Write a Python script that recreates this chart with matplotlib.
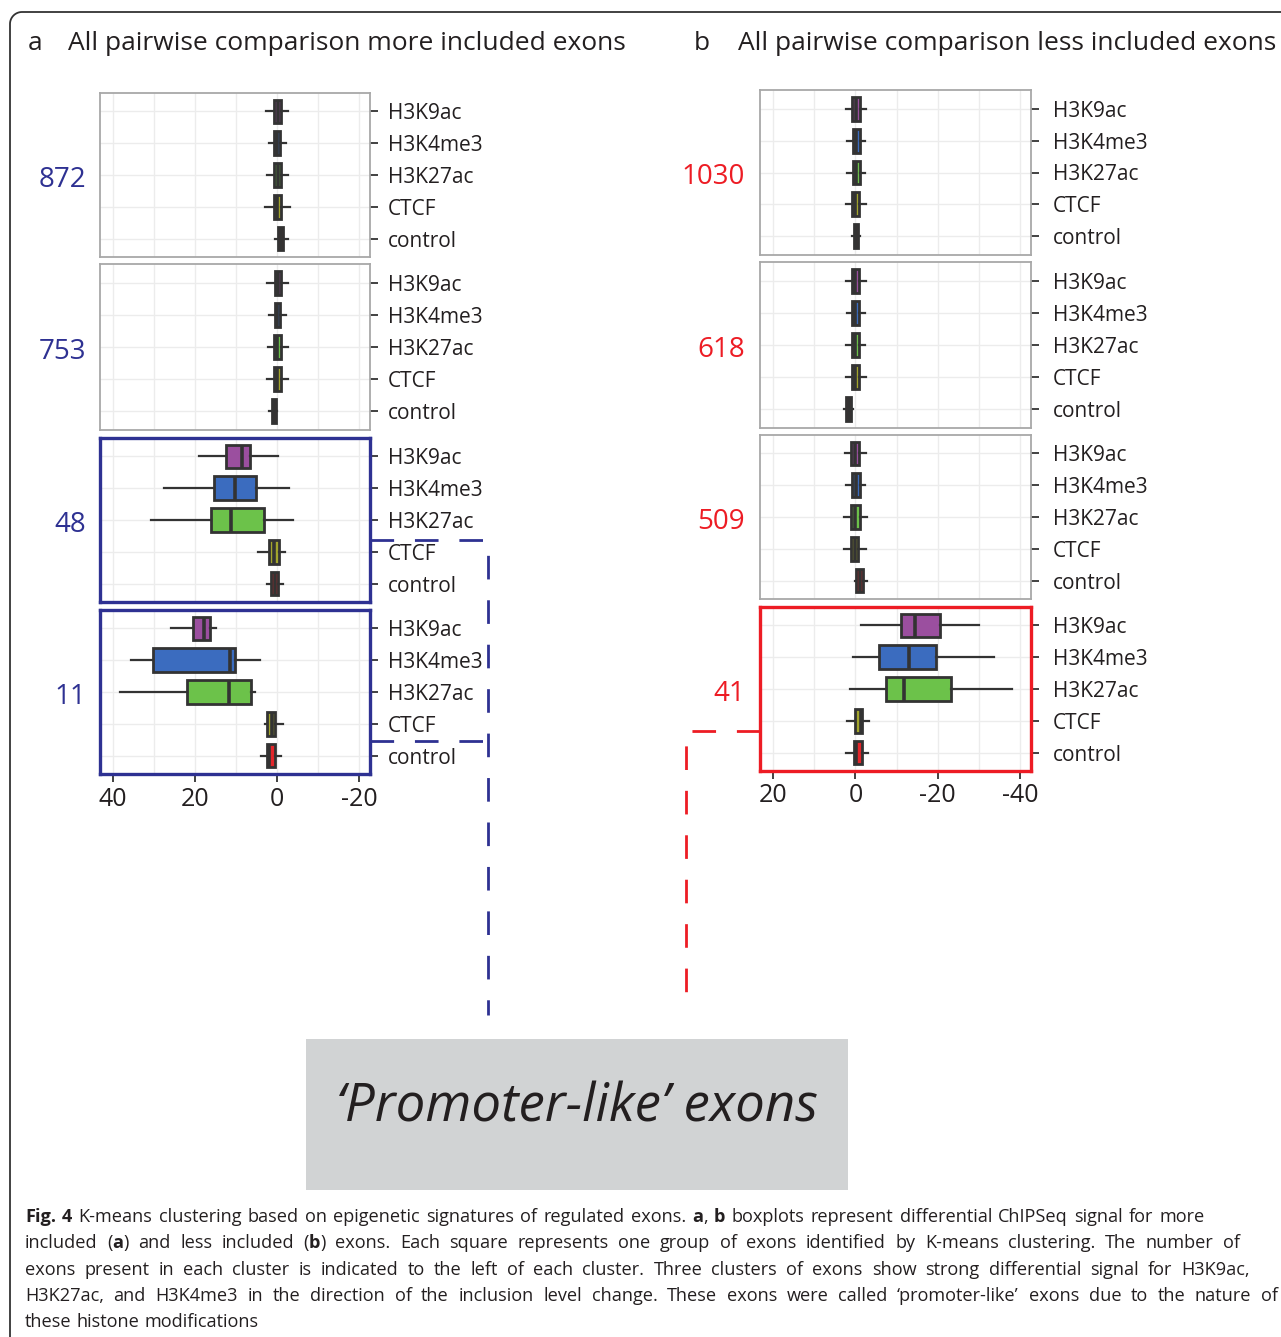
import matplotlib
matplotlib.use("Agg")
import matplotlib.pyplot as plt
from matplotlib.lines import Line2D
from matplotlib.patches import Rectangle
import numpy as np

W, H = 1281, 1337
plt.rcParams['font.family'] = ['Open Sans', 'DejaVu Sans']
plt.rcParams['lines.scale_dashes'] = False

# ---------------------------------------------------------------- data
marks = ["H3K9ac", "H3K4me3", "H3K27ac", "CTCF", "control"]
mark_colors = ["#9b4f9f", "#3b6cbf", "#6cc24a", "#a3a52c", "#e3262b"]

# more included exons (panel a): cluster sizes and box statistics per mark
a_sizes = [872, 753, 48, 11]
a_whislo = [[-2.7, -2.2, -2.7, -3.0, -2.6],
            [-2.6, -2.2, -2.5, -2.7, 0.0],
            [-0.2, -2.8, -3.8, -2.0, -1.4],
            [14.9, 4.3, 5.5, -1.4, -1.0]]
a_q1 = [[-0.9, -0.7, -0.8, -1.0, -1.3],
        [-0.8, -0.7, -0.8, -0.9, 0.4],
        [6.6, 5.3, 3.2, -0.4, -0.3],
        [16.3, 10.2, 6.5, 0.5, 0.5]]
a_med = [[-0.1, 0.0, -0.1, 0.0, -0.8],
         [-0.1, 0.0, 0.0, 0.0, 0.9],
         [8.5, 10.2, 11.3, 0.8, 0.5],
         [17.9, 11.5, 11.8, 1.2, 1.9]]
a_q3 = [[0.7, 0.7, 0.7, 0.9, -0.3],
        [0.6, 0.6, 0.7, 0.8, 1.4],
        [12.4, 15.5, 16.1, 2.1, 1.5],
        [20.6, 30.3, 22.0, 2.5, 2.4]]
a_whishi = [[2.7, 2.1, 2.4, 2.9, 0.5],
            [2.5, 2.1, 2.3, 2.6, 1.9],
            [19.1, 27.5, 30.7, 4.6, 2.4],
            [25.9, 35.6, 38.3, 2.9, 3.9]]

# less included exons (panel b)
b_sizes = [1030, 618, 509, 41]
b_whislo = [[-2.6, -2.4, -2.4, -2.6, -1.2],
            [-2.5, -2.3, -2.4, -2.5, 0.5],
            [-2.6, -2.4, -2.8, -2.5, -2.9],
            [-30.0, -33.6, -38.1, -3.4, -3.0]]
b_q1 = [[-1.0, -1.0, -1.0, -0.9, -0.6],
        [-0.9, -0.9, -0.9, -0.9, 1.0],
        [-0.8, -1.0, -1.0, -0.7, -1.8],
        [-20.6, -19.6, -23.3, -1.6, -1.6]]
b_med = [[-0.1, -0.1, -0.2, 0.0, -0.1],
         [0.0, 0.0, 0.0, 0.0, 1.5],
         [0.1, -0.1, 0.0, 0.1, -1.0],
         [-14.5, -13.0, -11.9, -1.3, -0.2]]
b_q3 = [[0.8, 0.7, 0.5, 0.9, 0.3],
        [0.8, 0.8, 0.8, 0.8, 2.2],
        [1.0, 0.8, 1.0, 1.0, -0.2],
        [-11.1, -5.8, -7.5, 0.2, 0.4]]
b_whishi = [[2.3, 2.0, 2.0, 2.3, 0.9],
            [2.3, 2.1, 2.2, 2.4, 2.7],
            [2.5, 2.3, 2.7, 2.7, 0.1],
            [-1.4, 0.6, 1.2, 2.0, 2.3]]

a_ticks = [40, 20, 0, -20]
b_ticks = [20, 0, -20, -40]
a_xlim = (43.2, -22.6)
b_xlim = (23.2, -42.7)

BLUE = "#2e3192"
RED = "#ed1c24"
GREY_FRAME = "#a8a8a8"
INK = "#231f20"
DARK = "#333333"

fig = plt.figure(figsize=(W / 100, H / 100), dpi=100)


def fx(x):
    return x / W


def fy(y):
    return 1 - y / H


def add_panel(x0, y0, x1, y1):
    return fig.add_axes([fx(x0), fy(y1), (x1 - x0) / W, (y1 - y0) / H])


def draw_cluster(ax, lo, q1, med, q3, hi, xlim, ticks, frame_color, frame_lw,
                 bottom, label_pad):
    stats = []
    for i in range(len(marks)):
        stats.append(dict(whislo=lo[i], q1=q1[i], med=med[i], q3=q3[i],
                          whishi=hi[i], fliers=[], label=marks[i]))
    ax.set_axisbelow(True)
    bp = ax.bxp(stats, positions=range(len(marks)), widths=0.75,
                orientation='horizontal', patch_artist=True,
                showcaps=False, showfliers=False,
                boxprops=dict(edgecolor=DARK, linewidth=2.0),
                medianprops=dict(color=DARK, linewidth=2.6),
                whiskerprops=dict(color=DARK, linewidth=1.6))
    for patch, c in zip(bp['boxes'], mark_colors):
        patch.set_facecolor(c)
    ax.set_xticks(ticks)
    ax.set_xticks(np.arange(min(ticks) - 10, max(ticks) + 11, 10), minor=True)
    ax.set_xlim(*xlim)
    ax.set_ylim(len(marks) - 0.42, -0.58)
    ax.grid(True, which='both', axis='x', color='#ececec', linewidth=1.0)
    ax.grid(True, which='major', axis='y', color='#ececec', linewidth=1.0)
    ax.yaxis.tick_right()
    ax.set_yticks(range(len(marks)))
    ax.set_yticklabels(marks, fontsize=15, color=INK)
    ax.tick_params(axis='y', length=6, width=1.3, color=DARK, pad=label_pad)
    ax.tick_params(axis='x', which='minor', length=0)
    if bottom:
        ax.tick_params(axis='x', which='major', length=6, width=1.3, color=DARK,
                       labelsize=18, labelcolor=INK, pad=3)
        ax.set_xticklabels([str(t) for t in ticks])
    else:
        ax.tick_params(axis='x', which='major', length=0, labelbottom=False)
    for s in ax.spines.values():
        s.set_color(frame_color)
        s.set_linewidth(frame_lw)


a_rows = [(93, 257), (264, 430), (438, 602), (610, 774)]
b_rows = [(90, 255), (262, 428), (435, 599), (607, 771)]
a_frames = [(GREY_FRAME, 1.3), (GREY_FRAME, 1.3), (BLUE, 2.4), (BLUE, 2.4)]
b_frames = [(GREY_FRAME, 1.3), (GREY_FRAME, 1.3), (GREY_FRAME, 1.3), (RED, 2.4)]

for k, (y0, y1) in enumerate(a_rows):
    ax = add_panel(100, y0, 370, y1)
    draw_cluster(ax, a_whislo[k], a_q1[k], a_med[k], a_q3[k], a_whishi[k],
                 a_xlim, a_ticks, *a_frames[k], bottom=(k == 3), label_pad=7)
    fig.text(fx(86), fy((y0 + y1) / 2 + 5), str(a_sizes[k]), color=BLUE,
             fontsize=20, ha='right', va='center')

for k, (y0, y1) in enumerate(b_rows):
    ax = add_panel(760, y0, 1031, y1)
    draw_cluster(ax, b_whislo[k], b_q1[k], b_med[k], b_q3[k], b_whishi[k],
                 b_xlim, b_ticks, *b_frames[k], bottom=(k == 3), label_pad=10)
    fig.text(fx(745), fy((y0 + y1) / 2 + 5), str(b_sizes[k]), color=RED,
             fontsize=20, ha='right', va='center')

# panel titles
fig.text(fx(28), fy(43), "a", fontsize=19, color=INK, va='center', ha='left')
fig.text(fx(68), fy(43), "All pairwise comparison more included exons",
         fontsize=19, color=INK, va='center', ha='left')
fig.text(fx(694), fy(43), "b", fontsize=19, color=INK, va='center', ha='left')
fig.text(fx(738), fy(43), "All pairwise comparison less included exons",
         fontsize=19, color=INK, va='center', ha='left')

# outer frame with rounded top-left corner
t = np.linspace(0, np.pi / 2, 20)
arc_x = 22 - 12 * np.cos(t)
arc_y = 24 - 12 * np.sin(t)
frame_x = np.concatenate([[10], arc_x, [W + 5]])
frame_y = np.concatenate([[H + 5], arc_y, [12]])
fig.add_artist(Line2D(fx(frame_x), fy(frame_y), color=DARK, linewidth=1.3))

# dashed connectors to the highlighted clusters
dash = (0, (17, 15))
fig.add_artist(Line2D(fx(np.array([370, 488, 488])), fy(np.array([540, 540, 1015])),
                      color=BLUE, linewidth=2.0, linestyle=dash))
fig.add_artist(Line2D(fx(np.array([370, 488])), fy(np.array([741, 741])),
                      color=BLUE, linewidth=2.0, linestyle=dash))
fig.add_artist(Line2D(fx(np.array([760, 686, 686])), fy(np.array([731, 731, 1010])),
                      color=RED, linewidth=2.0, linestyle=dash))

# label box
fig.add_artist(Rectangle((fx(306), fy(1190)), (848 - 306) / W, (1190 - 1039) / H,
                         facecolor="#d1d3d4", edgecolor='none'))
fig.text(fx(577), fy(1108), "\u2018Promoter-like\u2019 exons", fontsize=38,
         style='italic', color=INK, ha='center', va='center')

# caption, justified line by line
caption = [
    ("**Fig.** **4** K-means clustering based on epigenetic signatures of regulated exons. "
     "**a**, **b** boxplots represent differential ChIPSeq signal for more", 1205),
    ("included (**a**) and less included (**b**) exons. Each square represents one group of "
     "exons identified by K-means clustering. The number of", 1240),
    ("exons present in each cluster is indicated to the left of each cluster. Three clusters "
     "of exons show strong differential signal for H3K9ac,", 1250),
    ("H3K27ac, and H3K4me3 in the direction of the inclusion level change. These exons were "
     "called \u2018promoter-like\u2019 exons due to the nature of", 1278),
    ("these histone modifications", None),
]
cap_size = 13.1
baselines = [1222, 1248, 1275, 1301, 1327]
renderer = fig.canvas.get_renderer()


def make_word(word):
    parts = word.split("**")
    runs = []
    for i, p in enumerate(parts):
        if p:
            runs.append(fig.text(0, 0, p, fontsize=cap_size, color=INK,
                                 fontweight='bold' if i % 2 else 'normal',
                                 va='baseline', ha='left'))
    widths = [r.get_window_extent(renderer).width for r in runs]
    return runs, widths


probe1 = fig.text(0, 0, "a a", fontsize=cap_size)
probe2 = fig.text(0, 0, "aa", fontsize=cap_size)
space_w = probe1.get_window_extent(renderer).width - probe2.get_window_extent(renderer).width
probe1.remove()
probe2.remove()

for (line, right), yb in zip(caption, baselines):
    words = [make_word(w) for w in line.split(" ")]
    total = sum(sum(ws) for _, ws in words)
    if right is None or len(words) < 2:
        gap = space_w
    else:
        gap = max((right - 25 - total) / (len(words) - 1), space_w * 0.8)
    x = 25.0
    for runs, ws in words:
        for r, w in zip(runs, ws):
            r.set_position((fx(x), fy(yb)))
            x += w
        x += gap

fig.savefig("out.png", dpi=100)
